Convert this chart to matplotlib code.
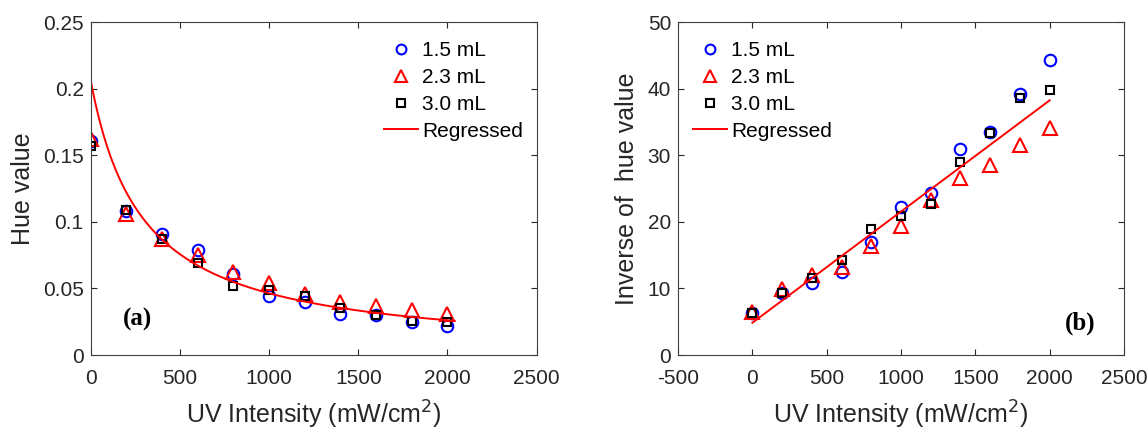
import numpy as np
import matplotlib
matplotlib.use("Agg")
import matplotlib.pyplot as plt

# UV intensity (mW/cm2)
uv = [0, 200, 400, 600, 800, 1000, 1200, 1400, 1600, 1800, 2000]

# (a) hue value
hue_15 = [0.161, 0.108, 0.091, 0.079, 0.061, 0.044, 0.040, 0.031, 0.030, 0.025, 0.022]
hue_23 = [0.1625, 0.106, 0.0875, 0.075, 0.0625, 0.054, 0.046, 0.040, 0.037, 0.034, 0.031]
hue_30 = [0.157, 0.109, 0.087, 0.0695, 0.052, 0.049, 0.044, 0.035, 0.030, 0.0255, 0.025]

# (b) inverse of hue value
inv_15 = [6.25, 9.25, 10.75, 12.5, 17.0, 22.25, 24.35, 31.0, 33.5, 39.25, 44.25]
inv_23 = [6.5, 9.85, 12.0, 13.25, 16.4, 19.4, 23.25, 26.65, 28.5, 31.5, 34.1]
inv_30 = [6.25, 9.25, 11.5, 14.35, 18.9, 20.85, 22.65, 29.0, 33.4, 38.65, 39.75]

# regressed line 1/hue = b0 + b1*uv
b0 = 4.85
b1 = 0.0167

plt.rcParams['font.family'] = ['Liberation Sans', 'DejaVu Sans']
plt.rcParams['axes.unicode_minus'] = False
fg = '#262626'

fig = plt.figure(figsize=(11.48, 4.32), dpi=100)
ax1 = fig.add_axes([0.079, 0.178, 0.3885, 0.771])
ax2 = fig.add_axes([0.5906, 0.178, 0.3885, 0.771])

mk = dict(linestyle='none', markerfacecolor='none', markeredgewidth=1.5)
leg = dict(frameon=False, fontsize=15, loc='upper left', handlelength=1.63,
           handletextpad=0.2, labelspacing=0.38, borderpad=0, borderaxespad=0,
           markerscale=0.85)

# (a)
xa = np.linspace(0, 2040, 300)
ax1.plot(uv, hue_15, 'o', color='#0000ff', markersize=8.3, label='1.5 mL', **mk)
ax1.plot(uv, hue_23, '^', color='#ff0000', markersize=9.5, label='2.3 mL', **mk)
ax1.plot(uv, hue_30, 's', color='black', markersize=6.2, label='3.0 mL', **mk)
ax1.plot(xa, 1.0 / (b0 + b1 * xa), '-', color='#ff0000', linewidth=1.4, label='Regressed')
ax1.set_xlim(0, 2500)
ax1.set_ylim(0, 0.25)
ax1.set_xticks([0, 500, 1000, 1500, 2000, 2500])
ax1.set_yticks([0, 0.05, 0.1, 0.15, 0.2, 0.25])
ax1.set_yticklabels(['0', '0.05', '0.1', '0.15', '0.2', '0.25'])
ax1.set_ylabel('Hue value', fontsize=18, color=fg)
ax1.set_xlabel('UV Intensity (mW/cm$^2$)', fontsize=18, color=fg)
ax1.text(262, 0.027, '(a)', fontsize=18, fontweight='bold', family='Liberation Serif',
         ha='center', va='center')
ax1.legend(bbox_to_anchor=(0.3345, 0.905), bbox_transform=fig.transFigure, **leg)

# (b)
xb = np.linspace(0, 2000, 100)
ax2.plot(uv, inv_15, 'o', color='#0000ff', markersize=8.3, label='1.5 mL', **mk)
ax2.plot(uv, inv_23, '^', color='#ff0000', markersize=9.5, label='2.3 mL', **mk)
ax2.plot(uv, inv_30, 's', color='black', markersize=6.2, label='3.0 mL', **mk)
ax2.plot(xb, b0 + b1 * xb, '-', color='#ff0000', linewidth=1.4, label='Regressed')
ax2.set_xlim(-500, 2500)
ax2.set_ylim(0, 50)
ax2.set_xticks([-500, 0, 500, 1000, 1500, 2000, 2500])
ax2.set_yticks([0, 10, 20, 30, 40, 50])
ax2.set_ylabel('Inverse of  hue value', fontsize=18, color=fg)
ax2.set_xlabel('UV Intensity (mW/cm$^2$)', fontsize=18, color=fg)
ax2.text(2206, 4.75, '(b)', fontsize=18, fontweight='bold', family='Liberation Serif',
         ha='center', va='center')
ax2.legend(bbox_to_anchor=(0.6037, 0.905), bbox_transform=fig.transFigure, **leg)

for ax in (ax1, ax2):
    ax.tick_params(direction='in', top=True, right=True, labelsize=15, colors=fg,
                   length=4, width=0.8)
    ax.tick_params(axis='x', pad=10)
    ax.tick_params(axis='y', pad=5)
    for s in ax.spines.values():
        s.set_color('#404040')
        s.set_linewidth(0.8)
    ax.yaxis.labelpad = 6
    ax.xaxis.labelpad = 8

fig.savefig('out.png', dpi=100)
